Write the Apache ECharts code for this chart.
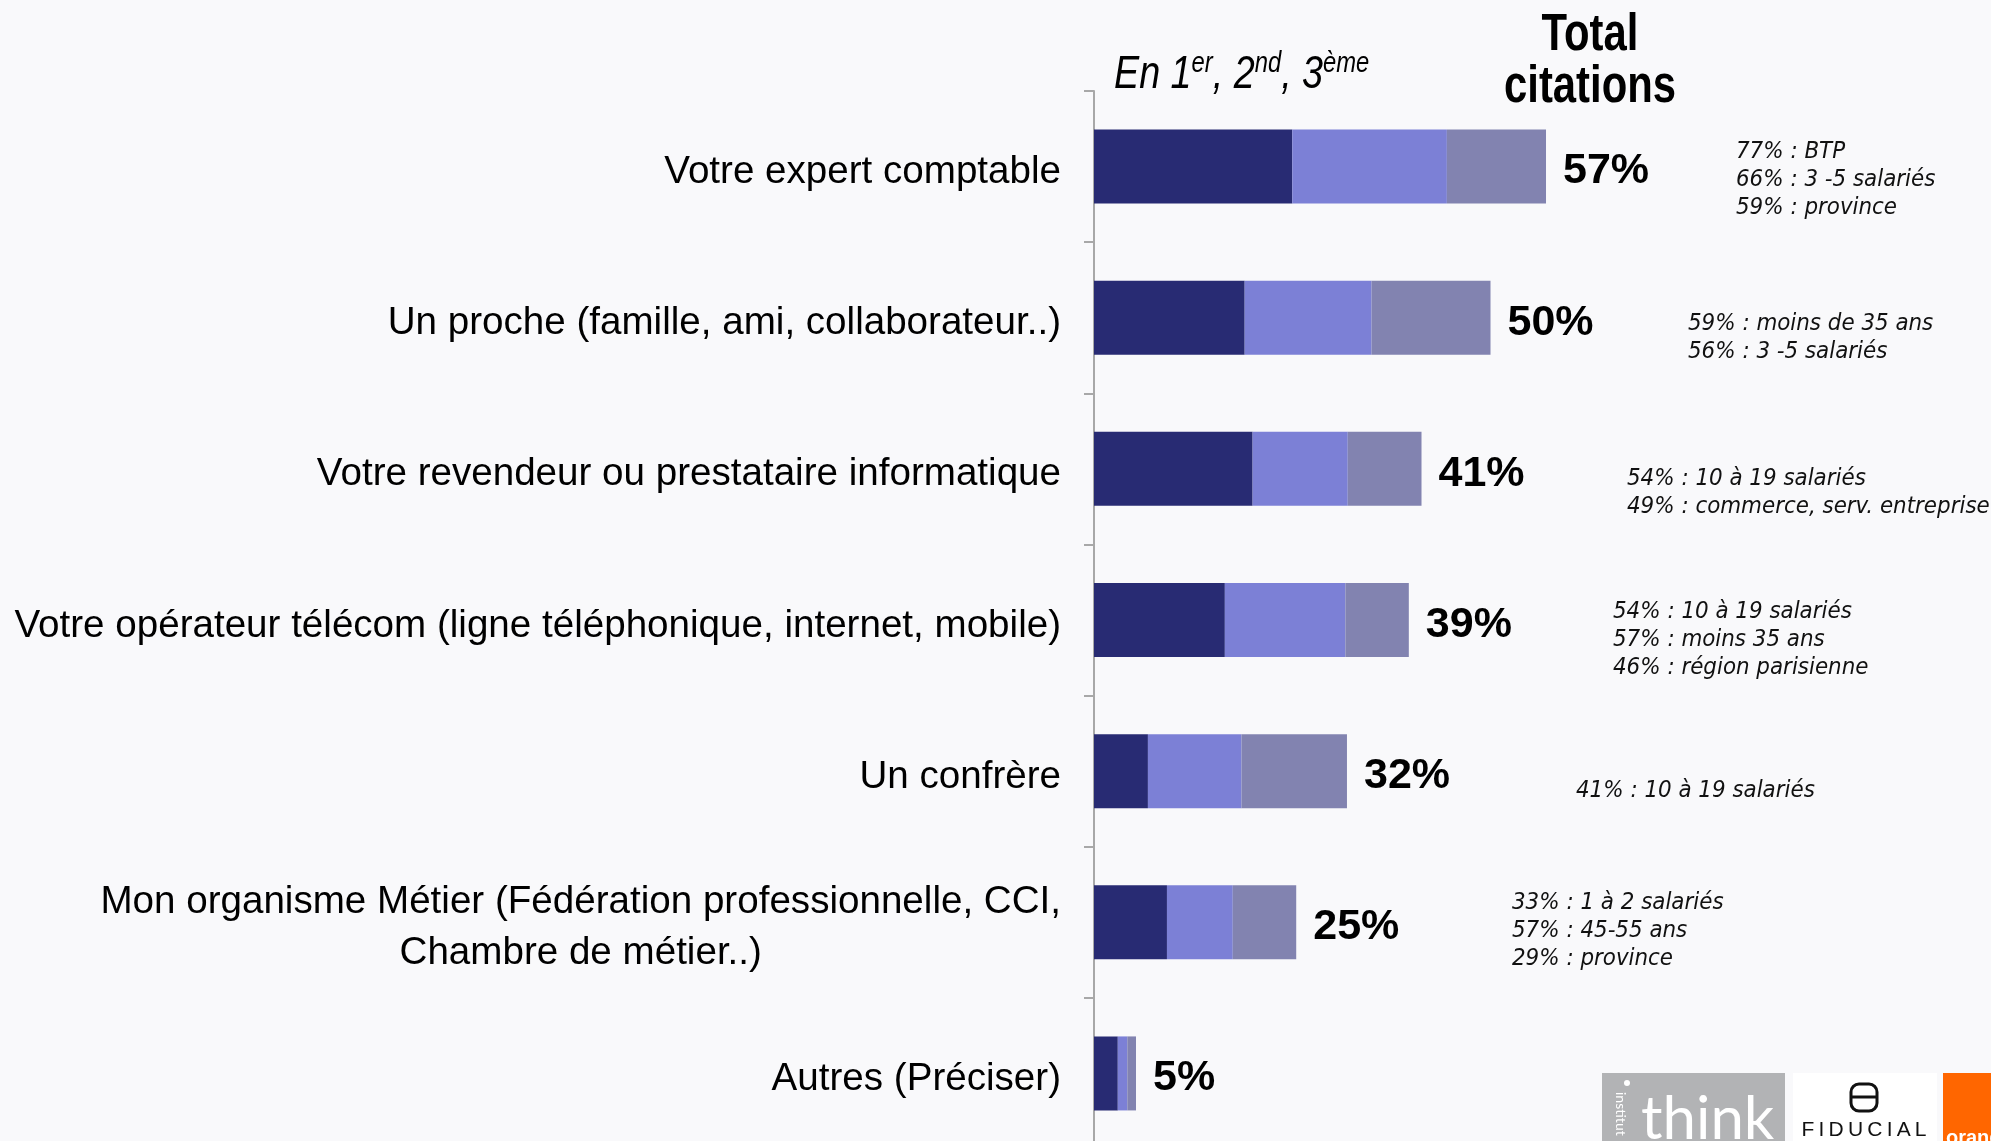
<!DOCTYPE html>
<html>
<head>
<meta charset="utf-8">
<script src="https://cdn.jsdelivr.net/npm/echarts@6/dist/echarts.min.js"></script>
<style>
html,body{margin:0;padding:0;background:#f9f9fb;}
#c{width:1991px;height:1141px;}
</style>
</head>
<body>
<div id="c"></div>
<script>
// ---------- DATA ----------
const categories = [
  'Votre expert comptable',
  'Un proche (famille, ami, collaborateur..)',
  'Votre revendeur ou prestataire informatique',
  'Votre opérateur télécom (ligne téléphonique, internet, mobile)',
  'Un confrère',
  'Mon organisme Métier (Fédération professionnelle, CCI,\nChambre de métier..)',
  'Autres (Préciser)'
];
const firstRank  = [25, 19, 20, 16.5, 6.8, 9.2, 3];
const secondRank = [19.5, 16, 12, 15.2, 11.8, 8.3, 1.2];
const thirdRank  = [12.5, 15, 9.3, 8, 13.3, 8, 1.1];
const totals     = [57, 50, 41, 39, 32, 25, 5];
const notes = [
  ['77% : BTP', '66% : 3 -5 salariés', '59% : province'],
  ['59% : moins de 35 ans', '56% : 3 -5 salariés'],
  ['54% : 10 à 19 salariés', '49% : commerce, serv. entreprise'],
  ['54% : 10 à 19 salariés', '57% : moins 35 ans', '46% : région parisienne'],
  ['41% : 10 à 19 salariés'],
  ['33% : 1 à 2 salariés', '57% : 45-55 ans', '29% : province'],
  []
];
const rankTitle = ['En 1', 'er', ', 2', 'nd', ', 3', 'ème'];
const totalTitle = 'Total\ncitations';

// ---------- LAYOUT / STYLE ----------
const SANS = "'Liberation Sans', Arial, sans-serif";
const NOTEFONT = "'DejaVu Sans Condensed', 'DejaVu Sans', sans-serif";
const NARROW_SCALE = 0.82;
const noteX  = [1736, 1688, 1627, 1613, 1576, 1512, 0];
const noteDy = [13, 20, 24, 20, 20, 9, 0];
const colors = ['#282b73', '#7c80d6', '#8283b0'];

const chart = echarts.init(document.getElementById('c'), null, {renderer: 'canvas'});

const option = {
  backgroundColor: '#f9f9fb',
  animation: false,
  grid: {left: 1094, top: 91, width: 793, height: 1058, containLabel: false, outerBoundsMode: 'none'},
  xAxis: {type: 'value', min: 0, max: 100, show: false},
  yAxis: {
    type: 'category',
    data: categories,
    inverse: true,
    axisLine: {show: true, lineStyle: {color: '#a8a8a8', width: 2}},
    axisTick: {show: true, length: 10, lineStyle: {color: '#a8a8a8', width: 2}},
    splitLine: {show: false},
    axisLabel: {
      margin: 33,
      formatter: v => v.split('\n').map(l => '{c|' + l + '}').join('\n'),
      rich: {
        c: {align: 'center', fontSize: 38.6, fontFamily: SANS, color: '#000', lineHeight: 51, padding: [12, 0, 0, 0]}
      }
    }
  },
  series: [
    {name: '1er', type: 'bar', stack: 'total', barWidth: 74, data: firstRank,
     itemStyle: {color: colors[0]}},
    {name: '2nd', type: 'bar', stack: 'total', barWidth: 74, data: secondRank,
     itemStyle: {color: colors[1]}},
    {name: '3ème', type: 'bar', stack: 'total', barWidth: 74, data: thirdRank,
     itemStyle: {color: colors[2]},
     label: {
       show: true, position: 'right', distance: 17, offset: [0, 5],
       formatter: p => totals[p.dataIndex] + '%',
       fontSize: 43, fontWeight: 'bold', fontFamily: SANS, color: '#000'
     }}
  ]
};
chart.setOption(option);

// ---------- TEXT ANNOTATIONS ----------
const graphics = [];
const mStyle = {fontSize: 46, fontStyle: 'italic', fontFamily: SANS, fill: '#000', lineHeight: 52};
const sStyle = {fontSize: 29, fontStyle: 'italic', fontFamily: SANS, fill: '#000', lineHeight: 32, verticalAlign: 'top'};
graphics.push({
  type: 'text', x: 1114, y: 49, scaleX: NARROW_SCALE, silent: true,
  style: {
    text: rankTitle.map((t, i) => (i % 2 === 0 ? '{m|' : '{s|') + t + '}').join(''),
    rich: {m: mStyle, s: sStyle}
  }
});
graphics.push({
  type: 'text', x: 1590, y: 62, scaleX: NARROW_SCALE, silent: true,
  style: {
    text: totalTitle, fontSize: 51, fontWeight: 'bold', fontFamily: SANS, fill: '#000',
    lineHeight: 52, align: 'center', verticalAlign: 'middle'
  }
});
notes.forEach((lines, i) => {
  if (!lines.length) return;
  const y = chart.convertToPixel({yAxisIndex: 0}, i) + noteDy[i];
  graphics.push({
    type: 'text', x: noteX[i], y: y, silent: true,
    style: {
      text: lines.join('\n'), fontSize: 23.8, fontStyle: 'italic', fontFamily: NOTEFONT,
      fill: '#111', lineHeight: 28, align: 'left', verticalAlign: 'middle'
    }
  });
});

// ---------- LOGOS ----------
graphics.push(
  {type: 'rect', shape: {x: 1602, y: 1073, width: 183, height: 68}, style: {fill: '#b2b3b5'}, silent: true},
  {type: 'circle', shape: {cx: 1627, cy: 1083, r: 3}, style: {fill: '#fff'}, silent: true},
  {type: 'text', x: 1621, y: 1092, rotation: -Math.PI / 2, silent: true,
   style: {text: 'institut', fontSize: 14, fontFamily: 'Lato, sans-serif', fill: '#fff', align: 'left', verticalAlign: 'middle'}},
  {type: 'text', x: 1641, y: 1090, silent: true,
   style: {text: 'think', fontSize: 60, fontFamily: 'Lato, sans-serif', fill: '#fff', align: 'left', verticalAlign: 'top'}},
  {type: 'rect', shape: {x: 1793, y: 1073, width: 144, height: 68}, style: {fill: '#ffffff'}, silent: true},
  {type: 'rect', shape: {x: 1851, y: 1084, width: 26, height: 27, r: 8}, style: {fill: 'none', stroke: '#111', lineWidth: 3}, silent: true},
  {type: 'line', shape: {x1: 1851, y1: 1097, x2: 1877, y2: 1097}, style: {stroke: '#111', lineWidth: 3}, silent: true},
  {type: 'text', x: 1864, y: 1130, silent: true,
   style: {text: 'F\u2009I\u2009D\u2009U\u2009C\u2009I\u2009A\u2009L', fontSize: 21, fontFamily: SANS, fill: '#111', align: 'center', verticalAlign: 'middle'}},
  {type: 'rect', shape: {x: 1943, y: 1073, width: 48, height: 68}, style: {fill: '#ff6600'}, silent: true},
  {type: 'text', x: 1946, y: 1128, silent: true,
   style: {text: 'orange', fontSize: 20, fontWeight: 'bold', fontFamily: SANS, fill: '#fff', align: 'left', verticalAlign: 'top'}}
);

chart.setOption({graphic: graphics});
</script>
</body>
</html>
